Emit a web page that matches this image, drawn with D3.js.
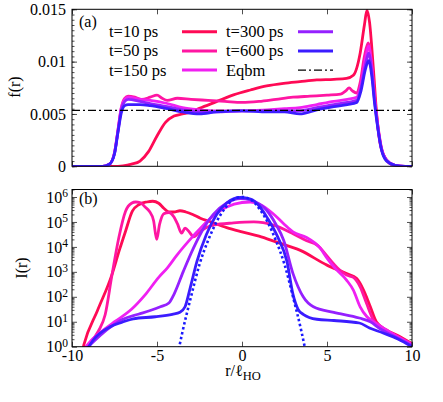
<!DOCTYPE html>
<html>
<head>
<meta charset="utf-8">
<script src="https://cdn.jsdelivr.net/npm/d3@7"></script>
<style>
body { margin: 0; background: #fff; }
svg { display: block; font-family: "Liberation Serif", "Times New Roman", serif; }
</style>
</head>
<body>
<svg id="chart" width="443" height="402"></svg>
<script>
// ---- data ----
const seriesNames = ["t=10 ps", "t=50 ps", "t=150 ps", "t=300 ps", "t=600 ps"];
const seriesColors = ["#ff0a55", "#ff16a2", "#f020f2", "#9520ff", "#3b1cff"];

const xTicks = [-10, -5, 0, 5, 10];
const fTicks = [0, 0.005, 0.01, 0.015];
const fTickLabels = ["0", "0.005", "0.01", "0.015"];
const iDecades = [0, 1, 2, 3, 4, 5, 6];

// panel (a): [r, f(r)]
const fT10 = [[-10, 0], [-7.6, 0], [-7.0, 0.00005], [-6.5, 0.0002], [-6.0, 0.0005], [-5.5, 0.0014],
  [-5.0, 0.0029], [-4.5, 0.0042], [-4.0, 0.0048], [-3.5, 0.005], [-3.0, 0.0052], [-2.5, 0.00554],
  [-1.5, 0.00618], [-0.5, 0.00682], [0.5, 0.00729], [1.45, 0.00768], [2.45, 0.00793], [3.4, 0.00809],
  [4.4, 0.00825], [5.4, 0.00831], [6.15, 0.0084], [6.55, 0.0087], [6.95, 0.0108], [7.2, 0.0135],
  [7.35, 0.0149], [7.5, 0.0138], [7.72, 0.0095], [7.92, 0.005], [8.12, 0.0022], [8.5, 0.0006],
  [8.9, 0.00012], [9.5, 0], [10, 0]];
const fT50 = [[-10, 0], [-8.2, 0], [-7.8, 0.0002], [-7.5, 0.0013], [-7.3, 0.0034], [-7.1, 0.0056],
  [-6.9, 0.0065], [-6.7, 0.0067], [-6.3, 0.0066], [-5.9, 0.0064], [-5.4, 0.0066], [-5.0, 0.0068],
  [-4.7, 0.0065], [-4.4, 0.0063], [-3.8, 0.0065], [-3.0, 0.0064], [-2.0, 0.0063], [-1.0, 0.0062],
  [0, 0.0061], [1.0, 0.0062], [2.0, 0.0064], [3.0, 0.0066], [4.0, 0.0067], [5.0, 0.0068],
  [5.8, 0.0069], [6.1, 0.0072], [6.3, 0.0075], [6.5, 0.0072], [6.75, 0.007], [6.95, 0.008],
  [7.2, 0.0105], [7.42, 0.0118], [7.6, 0.0102], [7.8, 0.0066], [8.0, 0.0038], [8.2, 0.0018],
  [8.5, 0.0006], [9.0, 0.0001], [9.6, 0], [10, 0]];
const fT150 = [[-10, 0], [-8.2, 0], [-7.8, 0.0002], [-7.5, 0.0013], [-7.3, 0.0034], [-7.1, 0.0056],
  [-6.9, 0.0064], [-6.7, 0.0066], [-6.0, 0.0064], [-5.4, 0.0063], [-4.4, 0.006], [-3.5, 0.0056],
  [-2.5, 0.0054], [-1.5, 0.0053], [0, 0.0053], [1.5, 0.0054], [2.5, 0.0055], [3.4, 0.0056],
  [4.4, 0.0059], [5.4, 0.0062], [6.2, 0.0064], [6.75, 0.0066], [7.0, 0.0078], [7.25, 0.0102],
  [7.45, 0.0115], [7.62, 0.0098], [7.8, 0.0065], [8.0, 0.0037], [8.2, 0.0017], [8.5, 0.0006],
  [9.0, 0.0001], [9.6, 0], [10, 0]];
const fT300 = [[-10, 0], [-8.2, 0], [-7.8, 0.0002], [-7.5, 0.0012], [-7.3, 0.0033], [-7.1, 0.0054],
  [-6.9, 0.0062], [-6.7, 0.0064], [-6.0, 0.0062], [-5.4, 0.006], [-4.4, 0.0057], [-3.5, 0.0054],
  [-2.5, 0.0052], [-1.5, 0.0052], [0, 0.0053], [1.5, 0.0053], [2.5, 0.0053], [3.4, 0.0053],
  [4.4, 0.0056], [5.4, 0.0059], [6.2, 0.0061], [6.75, 0.0063], [7.0, 0.0075], [7.25, 0.0096],
  [7.45, 0.0108], [7.62, 0.0093], [7.8, 0.0063], [8.0, 0.0036], [8.2, 0.0017], [8.5, 0.0006],
  [9.0, 0.0001], [9.6, 0], [10, 0]];
const fT600 = [[-10, 0], [-8.2, 0], [-7.8, 0.0002], [-7.5, 0.0012], [-7.3, 0.0032], [-7.1, 0.0051],
  [-6.9, 0.0058], [-6.7, 0.0059], [-6.0, 0.0059], [-5.4, 0.0058], [-4.4, 0.0055], [-3.5, 0.0052],
  [-2.5, 0.005], [-1.5, 0.0052], [0, 0.0053], [1.5, 0.0052], [2.5, 0.0052], [3.4, 0.005],
  [4.4, 0.0054], [5.4, 0.0057], [6.2, 0.0059], [6.75, 0.0061], [7.0, 0.0072], [7.25, 0.0092],
  [7.45, 0.0101], [7.62, 0.0088], [7.8, 0.006], [8.0, 0.0035], [8.2, 0.0016], [8.5, 0.0005],
  [9.0, 0.0001], [9.6, 0], [10, 0]];
const fEqbm = [[-10, 0.00535], [10, 0.00535]];

// panel (b): [r, log10 I(r)]
const iT10 = [[-9.4, -0.2], [-9.3, 0.08], [-8.5, 1.45], [-7.65, 2.89], [-7.2, 3.9], [-6.85, 4.63],
  [-6.45, 5.43], [-6.05, 5.7], [-5.6, 5.8], [-5.25, 5.83], [-4.9, 5.75], [-4.6, 5.55], [-4.3, 5.4],
  [-4.0, 5.4], [-3.65, 5.45], [-3.3, 5.4], [-2.9, 5.3], [-2.45, 5.15], [-1.9, 5.02], [-0.9, 4.77],
  [0, 4.6], [1.0, 4.43], [2.0, 4.2], [3.4, 3.87], [5.0, 3.27], [6.15, 2.93], [6.75, 2.73],
  [7.15, 2.27], [7.55, 1.6], [7.9, 1.0], [8.5, 0.67], [9.3, 0.4], [10, 0.12]];
const iT50 = [[-9.3, -0.1], [-9.0, 0.1], [-8.45, 0.62], [-8.05, 1.28], [-7.65, 2.87], [-7.25, 4.36],
  [-6.85, 5.43], [-6.5, 5.75], [-6.25, 5.8], [-6.0, 5.78], [-5.7, 5.6], [-5.45, 5.43], [-5.2, 5.05],
  [-5.02, 4.3], [-4.85, 4.9], [-4.6, 5.33], [-4.3, 5.38], [-4.0, 5.2], [-3.8, 4.93], [-3.55, 4.55],
  [-3.35, 4.75], [-3.1, 4.6], [-2.85, 4.4], [-2.5, 4.6], [-1.7, 4.87], [-0.5, 4.96], [0.7, 5.0],
  [1.85, 4.87], [3.0, 4.53], [3.8, 4.25], [4.3, 4.12], [4.55, 4.0], [4.8, 3.8], [5.75, 3.07],
  [6.15, 2.87], [6.55, 2.78], [6.95, 2.4], [7.33, 1.73], [7.73, 1.07], [8.1, 0.8], [8.9, 0.5],
  [10, 0.1]];
const iT150 = [[-9.3, -0.1], [-8.8, 0.3], [-8.0, 0.75], [-7.45, 1.02], [-6.5, 1.5], [-5.7, 2.08],
  [-4.9, 2.78], [-4.4, 3.15], [-3.85, 3.65], [-2.85, 4.45], [-1.9, 5.12], [-0.9, 5.6], [0, 5.78],
  [0.5, 5.8], [1.05, 5.7], [1.8, 5.35], [2.45, 4.93], [3.0, 4.6], [3.8, 4.38], [4.3, 4.15],
  [4.6, 3.95], [5.0, 3.55], [5.4, 3.2], [6.15, 2.67], [6.55, 2.27], [6.95, 1.6], [7.35, 1.2],
  [7.9, 0.93], [8.9, 0.5], [10, 0.08]];
const iT300 = [[-9.2, -0.1], [-8.5, 0.35], [-7.8, 0.75], [-7.0, 1.1], [-6.1, 1.3], [-5.4, 1.45],
  [-4.8, 1.6], [-4.3, 1.75], [-4.0, 2.1], [-3.45, 3.02], [-2.85, 3.96], [-2.25, 4.76], [-1.7, 5.29],
  [-0.9, 5.76], [-0.1, 5.94], [0.5, 5.88], [1.45, 5.47], [2.0, 4.9], [2.45, 4.27], [3.0, 2.93],
  [3.6, 2.0], [4.2, 1.6], [5.4, 1.38], [6.9, 1.15], [7.55, 1.0], [8.1, 0.73], [9.0, 0.4], [10, 0.05]];
const iT600 = [[-9.1, -0.1], [-8.75, 0.27], [-7.75, 0.8], [-7.05, 0.98], [-6.4, 1.12], [-5.1, 1.2],
  [-4.1, 1.3], [-3.65, 1.38], [-3.35, 1.6], [-3.05, 2.35], [-2.65, 3.42], [-2.1, 4.49], [-1.5, 5.29],
  [-0.9, 5.76], [-0.1, 5.98], [0.5, 5.92], [1.0, 5.65], [1.5, 5.15], [2.1, 4.4], [2.65, 3.4],
  [3.0, 2.1], [3.3, 1.5], [3.6, 1.3], [4.4, 1.1], [5.4, 1.05], [6.9, 0.95], [7.5, 0.75],
  [8.3, 0.55], [9.2, 0.3], [10, 0.0]];
const iEqbm = [[-3.72, -0.1], [-3.5, 0.6], [-3.0, 2.0], [-2.5, 3.3], [-2.0, 4.25], [-1.5, 5.0],
  [-1.0, 5.55], [-0.5, 5.9], [0, 6.0], [0.5, 5.9], [1.0, 5.55], [1.5, 5.0], [2.0, 4.25],
  [2.5, 3.3], [3.0, 2.0], [3.5, 0.6], [3.72, -0.1]];

const fSeries = [fT10, fT50, fT150, fT300, fT600];
const iSeries = [iT10, iT50, iT150, iT300, iT600];

// ---- layout ----
const svg = d3.select("#chart");
const left = 72, right = 412;
const aTop = 9.3, aBottom = 166.3;
const bTop = 189.5, bBottom = 346.7;

const x = d3.scaleLinear().domain([-10, 10]).range([left, right]);
const ya = d3.scaleLinear().domain([0, 0.015]).range([aBottom, aTop]);
const yb = d3.scaleLog().domain([1, 2e6]).range([bBottom, bTop]);

const defs = svg.append("defs");
[["clipA", aTop, aBottom], ["clipB", bTop, bBottom]].forEach(([id, t, b]) => {
  defs.append("clipPath").attr("id", id)
    .append("rect").attr("x", left).attr("y", t).attr("width", right - left).attr("height", b - t);
});

function styleAxis(g) {
  g.select(".domain").remove();
  g.selectAll(".tick line").attr("stroke", "#222").attr("stroke-width", 0.8);
  g.selectAll("text").attr("font-family", "Liberation Serif, serif").attr("font-size", 16).attr("fill", "#000");
}

// ---- panel (a) ----
svg.append("g").attr("transform", `translate(${left},0)`)
  .call(d3.axisLeft(ya).tickValues(fTicks).tickSize(-5).tickPadding(6).tickFormat((d, i) => fTickLabels[i]))
  .call(styleAxis);
svg.append("g").attr("transform", `translate(${left},0)`)
  .call(d3.axisLeft(ya).tickValues(d3.range(0, 0.01501, 0.0005)).tickSize(-2.5).tickFormat(""))
  .call(styleAxis);
svg.append("g").attr("transform", `translate(${right},0)`)
  .call(d3.axisRight(ya).tickValues(fTicks).tickSize(-5).tickFormat(""))
  .call(styleAxis);
svg.append("g").attr("transform", `translate(${right},0)`)
  .call(d3.axisRight(ya).tickValues(d3.range(0, 0.01501, 0.0005)).tickSize(-2.5).tickFormat(""))
  .call(styleAxis);
svg.append("g").attr("transform", `translate(0,${aBottom})`)
  .call(d3.axisBottom(x).tickValues(xTicks).tickSize(-5).tickFormat(""))
  .call(styleAxis);
svg.append("g").attr("transform", `translate(0,${aTop})`)
  .call(d3.axisTop(x).tickValues(xTicks).tickSize(-5).tickFormat(""))
  .call(styleAxis);

const lineA = d3.line().x(d => x(d[0])).y(d => ya(d[1])).curve(d3.curveMonotoneX);
const gA = svg.append("g").attr("clip-path", "url(#clipA)");
fSeries.forEach((s, i) => {
  gA.append("path").attr("d", lineA(s)).attr("fill", "none")
    .attr("stroke", seriesColors[i]).attr("stroke-width", 2.8).attr("stroke-linejoin", "round");
});
gA.append("path").attr("d", lineA(fEqbm)).attr("fill", "none")
  .attr("stroke", "#000").attr("stroke-width", 1.3).attr("stroke-dasharray", "8,3,2,3");

svg.append("rect").attr("x", left).attr("y", aTop).attr("width", right - left).attr("height", aBottom - aTop)
  .attr("fill", "none").attr("stroke", "#000").attr("stroke-width", 1);

svg.append("text").attr("x", 79).attr("y", 26.5).attr("font-size", 16).text("(a)");
svg.append("text").attr("transform", "translate(20,87) rotate(-90)").attr("text-anchor", "middle")
  .attr("font-size", 16).text("f(r)");

// legend
const legendItems = seriesNames.map((n, i) => ({ name: n, color: seriesColors[i], dash: null, w: 3 }))
  .concat([{ name: "Eqbm", color: "#000", dash: "8,3,2,3", w: 1.3 }]);
const legend = svg.append("g");
legendItems.forEach((d, i) => {
  const col = Math.floor(i / 3), row = i % 3;
  const tx = col === 0 ? 109 : 226;
  const lx = col === 0 ? 182 : 298;
  const yy = 31.7 + row * 19.2;
  legend.append("text").attr("x", tx).attr("y", yy + 5.5).attr("font-size", 16.5).text(d.name);
  legend.append("line").attr("x1", lx).attr("x2", lx + 35).attr("y1", yy).attr("y2", yy)
    .attr("stroke", d.color).attr("stroke-width", d.w).attr("stroke-dasharray", d.dash);
});

// ---- panel (b) ----
const logMinor = [];
iDecades.slice(0, 6).forEach(k => d3.range(2, 10).forEach(m => logMinor.push(m * 10 ** k)));
logMinor.push(2e6);

const supLabel = g => {
  g.selectAll(".tick text").text(null).each(function (d) {
    const t = d3.select(this);
    t.append("tspan").text("10");
    t.append("tspan").attr("dy", "-0.5em").attr("font-size", 11.5).text(Math.round(Math.log10(d)));
  });
};
const decadeValues = iDecades.map(k => 10 ** k);

svg.append("g").attr("transform", `translate(${left},0)`)
  .call(d3.axisLeft(yb).tickValues(decadeValues).tickSize(-5).tickPadding(4))
  .call(styleAxis).call(supLabel);
svg.append("g").attr("transform", `translate(${left},0)`)
  .call(d3.axisLeft(yb).tickValues(logMinor).tickSize(-2.5).tickFormat(""))
  .call(styleAxis);
svg.append("g").attr("transform", `translate(${right},0)`)
  .call(d3.axisRight(yb).tickValues(decadeValues).tickSize(-5).tickFormat(""))
  .call(styleAxis);
svg.append("g").attr("transform", `translate(${right},0)`)
  .call(d3.axisRight(yb).tickValues(logMinor).tickSize(-2.5).tickFormat(""))
  .call(styleAxis);
svg.append("g").attr("transform", `translate(0,${bBottom})`)
  .call(d3.axisBottom(x).tickValues(xTicks).tickSize(-5).tickPadding(2.5).tickFormat(d => String(d)))
  .call(styleAxis);
svg.append("g").attr("transform", `translate(0,${bTop})`)
  .call(d3.axisTop(x).tickValues(xTicks).tickSize(-5).tickFormat(""))
  .call(styleAxis);

const lineB = d3.line().x(d => x(d[0])).y(d => yb(10 ** d[1])).curve(d3.curveMonotoneX);
const gB = svg.append("g").attr("clip-path", "url(#clipB)");
iSeries.forEach((s, i) => {
  gB.append("path").attr("d", lineB(s)).attr("fill", "none")
    .attr("stroke", seriesColors[i]).attr("stroke-width", 2.8).attr("stroke-linejoin", "round");
});
gB.append("path").attr("d", lineB(iEqbm)).attr("fill", "none")
  .attr("stroke", "#1a1aff").attr("stroke-width", 2.6).attr("stroke-dasharray", "2.5,2.5");

svg.append("rect").attr("x", left).attr("y", bTop).attr("width", right - left).attr("height", bBottom - bTop)
  .attr("fill", "none").attr("stroke", "#000").attr("stroke-width", 1);

svg.append("text").attr("x", 79).attr("y", 204).attr("font-size", 16).text("(b)");
svg.append("text").attr("transform", "translate(27,268) rotate(-90)").attr("text-anchor", "middle")
  .attr("font-size", 16).text("I(r)");

const xl = svg.append("text").attr("x", 243).attr("y", 376).attr("text-anchor", "middle").attr("font-size", 16);
xl.append("tspan").text("r/ℓ");
xl.append("tspan").attr("dy", "0.35em").attr("font-size", 12.5).text("HO");
</script>
</body>
</html>
